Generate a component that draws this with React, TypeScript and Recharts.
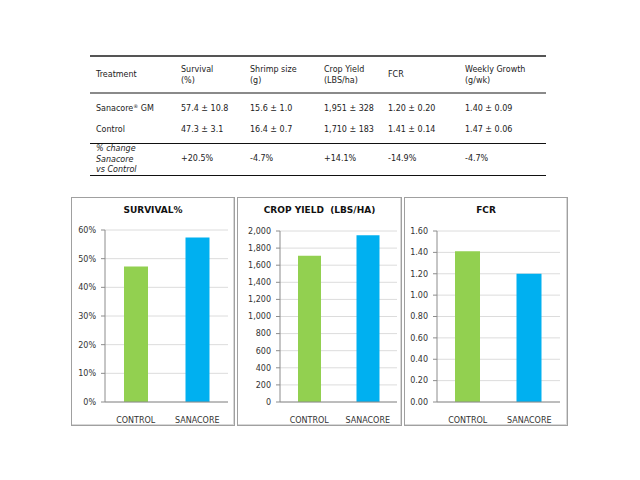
import { BarChart, Bar, Cell, XAxis, YAxis, CartesianGrid } from 'recharts'

const categories = ['CONTROL', 'SANACORE']
const survival = [47.3, 57.4]
const cropYield = [1710, 1951]
const fcr = [1.41, 1.2]
const barColors = ['#92d050', '#00b0f0']

const survivalTicks = [0, 10, 20, 30, 40, 50, 60]
const yieldTicks = [0, 200, 400, 600, 800, 1000, 1200, 1400, 1600, 1800, 2000]
const fcrTicks = [0, 0.2, 0.4, 0.6, 0.8, 1.0, 1.2, 1.4, 1.6]

const headerLine1 = ['Treatment', 'Survival', 'Shrimp size', 'Crop Yield', 'FCR', 'Weekly Growth']
const headerLine2 = ['', '(%)', '(g)', '(LBS/ha)', '', '(g/wk)']
const sanacoreRow = ['57.4 ± 10.8', '15.6 ± 1.0', '1,951 ± 328', '1.20 ± 0.20', '1.40 ± 0.09']
const controlRow = ['47.3 ± 3.1', '16.4 ± 0.7', '1,710 ± 183', '1.41 ± 0.14', '1.47 ± 0.06']
const changeRow = ['+20.5%', '-4.7%', '+14.1%', '-14.9%', '-4.7%']
const changeLabel = ['% change', 'Sanacore', 'vs Control']

const colX = [96, 181, 250, 324, 388, 465]
const font = '"DejaVu Sans", Verdana, sans-serif'

const txt = (x: number, y: number, s: React.ReactNode, extra: React.CSSProperties = {}) => (
  <div
    style={{
      position: 'absolute',
      left: x,
      top: y - 5,
      fontSize: 8,
      lineHeight: '10px',
      whiteSpace: 'nowrap',
      color: '#222',
      fontFamily: font,
      ...extra,
    }}
  >
    {s}
  </div>
)

const hline = (y: number, h: number, color: string) => (
  <div style={{ position: 'absolute', left: 90, top: y, width: 456, height: h, background: color }} />
)

const Table = () => (
  <>
    {hline(55, 2, '#555')}
    {headerLine1.map((h, i) => txt(colX[i], headerLine2[i] ? 70 : 75, h))}
    {headerLine2.map((h, i) => (h ? txt(colX[i], 81, h) : null))}
    {hline(92, 2, '#8a8a8a')}
    {txt(
      colX[0],
      109,
      <>
        Sanacore<span style={{ fontSize: 5, position: 'relative', top: -3 }}>®</span> GM
      </>
    )}
    {sanacoreRow.map((v, i) => txt(colX[i + 1], 109, v))}
    {txt(colX[0], 130, 'Control')}
    {controlRow.map((v, i) => txt(colX[i + 1], 130, v))}
    {hline(143, 1, '#111')}
    {changeLabel.map((v, i) => txt(colX[0], 149 + i * 10.5, v, { fontStyle: 'italic' }))}
    {changeRow.map((v, i) => txt(colX[i + 1], 159, v))}
    {hline(175, 1, '#111')}
  </>
)

interface PanelProps {
  left: number
  width: number
  title: string
  values: number[]
  ticks: number[]
  fmt: (v: number) => string
  axisWidth: number
  marginRight: number
  marginTop: number
  barSize: number
}

const Panel = ({ left, width, title, values, ticks, fmt, axisWidth, marginRight, marginTop, barSize }: PanelProps) => {
  const data = categories.map((c, i) => ({ name: c, value: values[i] }))
  return (
    <>
      <div
        style={{
          position: 'absolute',
          left,
          top: 197,
          width,
          height: 229,
          boxSizing: 'border-box',
          border: '1px solid #a0a0a0',
          boxShadow: 'inset -1px -1px 0 #d8d8d8',
        }}
      />
      <div
        style={{
          position: 'absolute',
          left,
          top: 205,
          width,
          textAlign: 'center',
          fontFamily: font,
          fontWeight: 'bold',
          fontSize: 9,
          color: '#111',
          whiteSpace: 'pre',
        }}
      >
        {title}
      </div>
      <div style={{ position: 'absolute', left, top: 197 }}>
        <BarChart
          width={width}
          height={229}
          data={data}
          margin={{ top: marginTop, right: marginRight, bottom: 4, left: 0 }}
        >
          <CartesianGrid vertical={false} stroke="#dcdcdc" />
          <XAxis
            dataKey="name"
            height={20}
            tickLine={false}
            tickMargin={9}
            stroke="#8c8c8c"
            tick={{ fontSize: 8, fill: '#333', fontFamily: font }}
            interval={0}
          />
          <YAxis
            width={axisWidth}
            domain={[ticks[0], ticks[ticks.length - 1]]}
            ticks={ticks}
            tickFormatter={fmt}
            tickSize={4}
            tickMargin={5}
            stroke="#8c8c8c"
            tick={{ fontSize: 8, fill: '#333', fontFamily: font }}
            interval={0}
          />
          <Bar dataKey="value" barSize={barSize} isAnimationActive={false}>
            {data.map((d, i) => (
              <Cell key={d.name} fill={barColors[i]} />
            ))}
          </Bar>
        </BarChart>
      </div>
    </>
  )
}

export default function App() {
  return (
    <div style={{ position: 'absolute', left: 0, top: 0, width: 640, height: 480, background: '#fff' }}>
      <Table />
      <Panel
        left={71}
        width={164}
        title="SURVIVAL%"
        values={survival}
        ticks={survivalTicks}
        fmt={(v) => `${v}%`}
        axisWidth={34}
        marginRight={7}
        marginTop={33}
        barSize={24}
      />
      <Panel
        left={237}
        width={165}
        title="CROP YIELD  (LBS/HA)"
        values={cropYield}
        ticks={yieldTicks}
        fmt={(v) => v.toLocaleString('en-US')}
        axisWidth={43}
        marginRight={5}
        marginTop={34}
        barSize={23}
      />
      <Panel
        left={404}
        width={164}
        title="FCR"
        values={fcr}
        ticks={fcrTicks}
        fmt={(v) => v.toFixed(2)}
        axisWidth={33}
        marginRight={8}
        marginTop={34}
        barSize={25}
      />
    </div>
  )
}
